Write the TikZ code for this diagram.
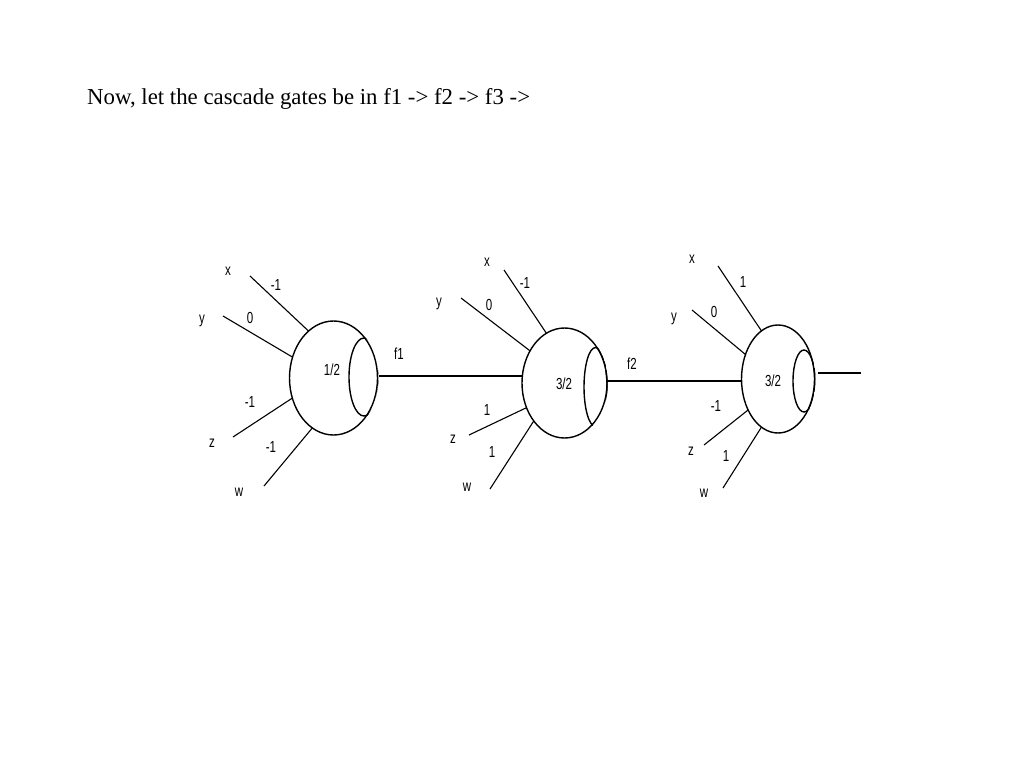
\documentclass[tikz,border=0pt]{standalone}
\usepackage{fontspec}
\setmainfont{Liberation Serif}
\newfontfamily\lblfont{Liberation Sans}
\usetikzlibrary{shapes.geometric}
\tikzset{
  gatebody/.style={ellipse,draw=black,line width=1.4pt,inner sep=0pt,outer sep=0pt,minimum width=#1},
  wire/.style={draw=black,line width=1.1pt},
  lbl/.style={inner sep=0pt,font=\lblfont\fontsize{16}{16}\selectfont,xscale=.72,text=black},
  title/.style={inner sep=0pt,anchor=base west,font=\fontsize{22.8}{26}\selectfont,text=black}
}
\begin{document}
\begin{tikzpicture}[x=1pt,y=-1pt]
\useasboundingbox[fill=white] (0,0) rectangle (1024,768);
\node[title] (head) at (87,104) {Now, let the cascade gates be in f1 -> f2 -> f3 ->};
% gates
\node[gatebody=88pt,minimum height=114pt] (g1) at (333.5,378) {};
\begin{scope}
\clip (333.5,378) ellipse [x radius=45pt,y radius=58pt];
\node[gatebody=30pt,minimum height=78pt] (i1) at (364,377) {};
\end{scope}
\node[gatebody=85pt,minimum height=110pt] (g2) at (564.5,383) {};
\begin{scope}
\clip (564.5,383) ellipse [x radius=43.5pt,y radius=56pt];
\node[gatebody=23pt,minimum height=79pt] (i2) at (595.5,387) {};
\end{scope}
\node[gatebody=73pt,minimum height=108pt] (g3) at (778,379) {};
\begin{scope}
\clip (778,379) ellipse [x radius=37.5pt,y radius=55pt];
\node[gatebody=22pt,minimum height=62pt] (i3) at (804,381) {};
\end{scope}
% free ends
\coordinate (x1) at (250,276); \coordinate (y1) at (223,316); \coordinate (z1) at (233,437); \coordinate (w1) at (264,486);
\coordinate (x2) at (504,270); \coordinate (y2) at (461,298); \coordinate (z2) at (469,435); \coordinate (w2) at (490,489);
\coordinate (x3) at (718,266); \coordinate (y3) at (692,310); \coordinate (z3) at (704,445); \coordinate (w3) at (723,488);
\coordinate (out) at (861,373);
\coordinate (o3) at (818,373);
% wires
\draw[wire] (x1) -- (g1.118); \draw[wire] (y1) -- (g1.153); \draw[wire] (z1) -- (g1.206); \draw[wire] (w1) -- (g1.247);
\draw[wire] (x2) -- (g2.110); \draw[wire] (y2) -- (g2.137); \draw[wire] (z2) -- (g2.213); \draw[wire] (w2) -- (g2.231);
\draw[wire] (x3) -- (g3.109); \draw[wire] (y3) -- (g3.143); \draw[wire] (z3) -- (g3.226); \draw[wire] (w3) -- (g3.251);
\draw[wire,line width=1.4pt] (i1.east |- 0,376) -- (g2.west |- 0,376);
\draw[wire,line width=1.4pt] (i2.east |- 0,381) -- (g3.west |- 0,381);
\draw[wire,line width=1.4pt] (o3) -- (out);
% labels
\node[lbl] (lx1) at (228,271) {x}; \node[lbl] (ly1) at (202,321) {y}; \node[lbl] (lz1) at (212,443) {z}; \node[lbl] (lw1) at (239,492) {w};
\node[lbl] (a1) at (276,285) {-1}; \node[lbl] (b1) at (250,318) {0}; \node[lbl] (c1) at (250,402) {-1}; \node[lbl] (d1) at (271,447) {-1};
\node[lbl] (t1) at (332,370) {1/2}; \node[lbl] (f1) at (399,354) {f1};
\node[lbl] (lx2) at (487,262) {x}; \node[lbl] (ly2) at (439,304) {y}; \node[lbl] (lz2) at (453,439) {z}; \node[lbl] (lw2) at (467,487) {w};
\node[lbl] (a2) at (525,283) {-1}; \node[lbl] (b2) at (489,305) {0}; \node[lbl] (c2) at (487,410) {1}; \node[lbl] (d2) at (492,452) {1};
\node[lbl] (t2) at (564,384) {3/2}; \node[lbl] (f2) at (632,364) {f2};
\node[lbl] (lx3) at (692,259) {x}; \node[lbl] (ly3) at (674,319) {y}; \node[lbl] (lz3) at (691,451) {z}; \node[lbl] (lw3) at (704,493) {w};
\node[lbl] (a3) at (743,282) {1}; \node[lbl] (b3) at (714,312) {0}; \node[lbl] (c3) at (716,406) {-1}; \node[lbl] (d3) at (726,456) {1};
\node[lbl] (t3) at (773,381) {3/2};
\end{tikzpicture}
\end{document}
